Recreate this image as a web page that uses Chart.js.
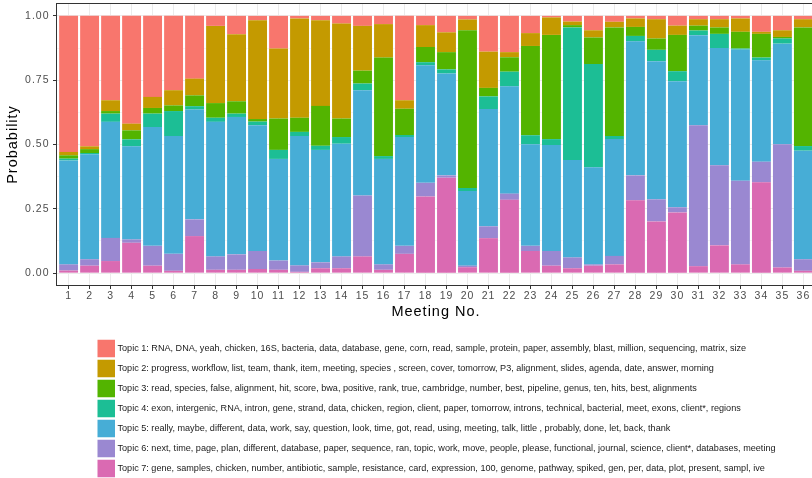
<!DOCTYPE html>
<html>
<head>
<meta charset="utf-8">
<title>Topic probabilities by meeting</title>
<script src="https://cdn.jsdelivr.net/npm/chart.js@4.4.1/dist/chart.umd.min.js"></script>
<style>
  html, body { margin: 0; padding: 0; background: #ffffff; overflow: hidden; }
  #wrap { width: 830px; height: 478px; position: relative; }
</style>
</head>
<body>
<div id="wrap"><canvas id="chart"></canvas></div>
<script>
// Meeting numbers along the x axis
const meetings = [1, 2, 3, 4, 5, 6, 7, 8, 9, 10, 11, 12, 13, 14, 15, 16, 17, 18,
                  19, 20, 21, 22, 23, 24, 25, 26, 27, 28, 29, 30, 31, 32, 33, 34, 35, 36];

// Per-meeting topic probabilities (each meeting sums to 1)
const topic1 = [0.529, 0.507, 0.328, 0.419, 0.315, 0.289, 0.244, 0.039, 0.071, 0.017, 0.127, 0.010,
                0.017, 0.030, 0.039, 0.032, 0.328, 0.036, 0.064, 0.014, 0.139, 0.141, 0.067, 0.006,
                0.022, 0.056, 0.023, 0.010, 0.013, 0.038, 0.013, 0.013, 0.010, 0.062, 0.056, 0.013];
const topic2 = [0.013, 0.011, 0.042, 0.026, 0.043, 0.059, 0.065, 0.300, 0.261, 0.384, 0.272, 0.386,
                0.333, 0.369, 0.174, 0.130, 0.033, 0.085, 0.077, 0.042, 0.141, 0.020, 0.050, 0.068,
                0.014, 0.028, 0.022, 0.033, 0.075, 0.036, 0.025, 0.032, 0.052, 0.008, 0.026, 0.032];
const topic3 = [0.013, 0.015, 0.010, 0.035, 0.022, 0.022, 0.042, 0.057, 0.048, 0.010, 0.122, 0.055,
                0.155, 0.072, 0.050, 0.383, 0.102, 0.059, 0.067, 0.613, 0.033, 0.056, 0.347, 0.405,
                0.009, 0.103, 0.422, 0.035, 0.044, 0.141, 0.019, 0.025, 0.065, 0.092, 0.006, 0.461];
const topic4 = [0.007, 0.005, 0.032, 0.027, 0.052, 0.097, 0.013, 0.016, 0.013, 0.014, 0.035, 0.016,
                0.016, 0.026, 0.026, 0.011, 0.008, 0.012, 0.016, 0.012, 0.049, 0.057, 0.035, 0.023,
                0.515, 0.401, 0.012, 0.021, 0.044, 0.039, 0.018, 0.055, 0.004, 0.011, 0.020, 0.018];
const topic5 = [0.404, 0.408, 0.451, 0.362, 0.462, 0.458, 0.427, 0.523, 0.534, 0.489, 0.395, 0.503,
                0.437, 0.438, 0.409, 0.410, 0.423, 0.457, 0.396, 0.290, 0.456, 0.417, 0.395, 0.412,
                0.379, 0.378, 0.454, 0.521, 0.537, 0.490, 0.350, 0.456, 0.510, 0.394, 0.391, 0.422];
const topic6 = [0.024, 0.025, 0.090, 0.013, 0.077, 0.066, 0.065, 0.052, 0.060, 0.070, 0.036, 0.025,
                0.023, 0.046, 0.237, 0.021, 0.031, 0.053, 0.009, 0.006, 0.046, 0.024, 0.020, 0.057,
                0.042, 0.005, 0.033, 0.097, 0.086, 0.020, 0.548, 0.311, 0.325, 0.080, 0.479, 0.045];
const topic7 = [0.010, 0.029, 0.047, 0.118, 0.029, 0.009, 0.144, 0.013, 0.013, 0.016, 0.013, 0.005,
                0.019, 0.019, 0.065, 0.013, 0.075, 0.298, 0.371, 0.023, 0.136, 0.285, 0.086, 0.029,
                0.019, 0.029, 0.034, 0.283, 0.201, 0.236, 0.027, 0.108, 0.034, 0.353, 0.022, 0.009];

// Topic names with their top words
const topicLabels = [
  "Topic 1: RNA, DNA, yeah, chicken, 16S, bacteria, data, database, gene, corn, read, sample, protein, paper, assembly, blast, million, sequencing, matrix, size",
  "Topic 2: progress, workflow, list, team, thank, item, meeting, species , screen, cover, tomorrow, P3, alignment, slides, agenda, date, answer, morning",
  "Topic 3: read, species, false, alignment, hit, score, bwa, positive, rank, true, cambridge, number, best, pipeline, genus, ten, hits, best, alignments",
  "Topic 4: exon, intergenic, RNA, intron, gene, strand, data, chicken, region, client, paper, tomorrow, introns, technical, bacterial, meet, exons, client*, regions",
  "Topic 5: really, maybe, different, data, work, say, question, look, time, got, read, using, meeting, talk, little , probably, done, let, back, thank",
  "Topic 6: next, time, page, plan, different, database, paper, sequence, ran, topic, work, move, people, please, functional, journal, science, client*, databases, meeting",
  "Topic 7: gene, samples, chicken, number, antibiotic, sample, resistance, card, expression, 100, genome, pathway, spiked, gen, per, data, plot, present, sampl, ive"
];
const topicValues = [topic1, topic2, topic3, topic4, topic5, topic6, topic7];

// Y axis tick positions (major ones carry labels, the rest are minor grid lines)
const yTicks = [0, 0.125, 0.25, 0.375, 0.5, 0.625, 0.75, 0.875, 1];
const yMajorTicks = [0, 0.25, 0.5, 0.75, 1];

// Fill colours per topic
const topicColors = ['#F8766D', '#C49A00', '#53B400', '#1CBE95', '#47ADD6', '#9A88D1', '#DA6AB2'];

// Topic 7 is stacked at the bottom, Topic 1 on top
const datasets = [];
for (let i = topicValues.length - 1; i >= 0; i--) {
  datasets.push({
    label: topicLabels[i],
    data: topicValues[i],
    backgroundColor: topicColors[i],
    borderWidth: 0,
    barPercentage: 0.9,
    categoryPercentage: 1.0
  });
}

const isMajor = v => yMajorTicks.indexOf(v) !== -1;

// Panel frame and the topic key underneath the plot
const panelAndKey = {
  id: 'panelAndKey',
  beforeDraw(chart) {
    chart.ctx.letterSpacing = '1px';
  },
  afterDraw(chart) {
    const ctx = chart.ctx;
    const a = chart.chartArea;
    ctx.save();
    ctx.letterSpacing = '0px';
    ctx.strokeStyle = '#333333';
    ctx.lineWidth = 1;
    ctx.strokeRect(Math.round(a.left) + 0.5, Math.round(a.top) + 0.5,
                   Math.round(a.right - a.left) - 1, Math.round(a.bottom - a.top) - 1);

    const keyLeft = 97.5, keySize = 17.5, rowStart = 348.5, rowStep = 20;
    ctx.font = '9.1px "Liberation Sans", Arial, sans-serif';
    ctx.textBaseline = 'middle';
    ctx.textAlign = 'left';
    for (let i = 0; i < topicLabels.length; i++) {
      const yc = rowStart + i * rowStep;
      ctx.fillStyle = topicColors[i];
      ctx.fillRect(keyLeft, yc - keySize / 2, keySize, keySize);
      ctx.fillStyle = '#1a1a1a';
      ctx.fillText(topicLabels[i], keyLeft + keySize + 2.5, yc);
    }
    ctx.restore();
  }
};

Chart.defaults.font.family = '"Liberation Sans", Arial, sans-serif';

new Chart(document.getElementById('chart'), {
  type: 'bar',
  data: { labels: meetings, datasets: datasets },
  options: {
    responsive: true,
    maintainAspectRatio: false,
    animation: false,
    events: [],
    layout: { padding: { left: 0, right: 14, top: 3, bottom: 154 } },
    plugins: {
      legend: { display: false },
      tooltip: { enabled: false }
    },
    scales: {
      x: {
        type: 'linear',
        stacked: true,
        offset: false,
        min: 0.4,
        max: 36.6,
        afterBuildTicks: s => { s.ticks = meetings.map(v => ({ value: v })); },
        afterFit: s => { s.height = 38; s.paddingLeft = 0; s.paddingRight = 0; },
        ticks: {
          autoSkip: false,
          maxRotation: 0,
          minRotation: 0,
          padding: 1.5,
          color: '#4D4D4D',
          font: { size: 10.5, lineHeight: 1 },
          callback: v => String(v)
        },
        grid: {
          offset: false,
          color: '#EBEBEB',
          lineWidth: 1,
          tickLength: 3,
          tickColor: '#333333'
        },
        border: { display: false },
        title: {
          display: true,
          text: 'Meeting No.',
          color: '#000000',
          font: { size: 14.5 },
          padding: { top: 0, bottom: 3.5 }
        }
      },
      y: {
        stacked: true,
        min: -0.05,
        max: 1.05,
        afterBuildTicks: s => { s.ticks = yTicks.map(v => ({ value: v })); },
        afterFit: s => { s.width = 56; s.paddingTop = 0; s.paddingBottom = 0; },
        ticks: {
          padding: 3.5,
          color: '#4D4D4D',
          font: { size: 10.5 },
          callback: v => isMajor(v) ? v.toFixed(2) : ''
        },
        grid: {
          color: '#EBEBEB',
          lineWidth: c => (c.tick && isMajor(c.tick.value)) ? 1 : 0.5,
          tickLength: 3,
          tickColor: c => (c.tick && isMajor(c.tick.value)) ? '#333333' : 'rgba(0,0,0,0)'
        },
        border: { display: false },
        title: {
          display: true,
          text: 'Probability',
          color: '#000000',
          font: { size: 14.5 },
          padding: { top: 4, bottom: 0 }
        }
      }
    }
  },
  plugins: [panelAndKey]
});
</script>
</body>
</html>
